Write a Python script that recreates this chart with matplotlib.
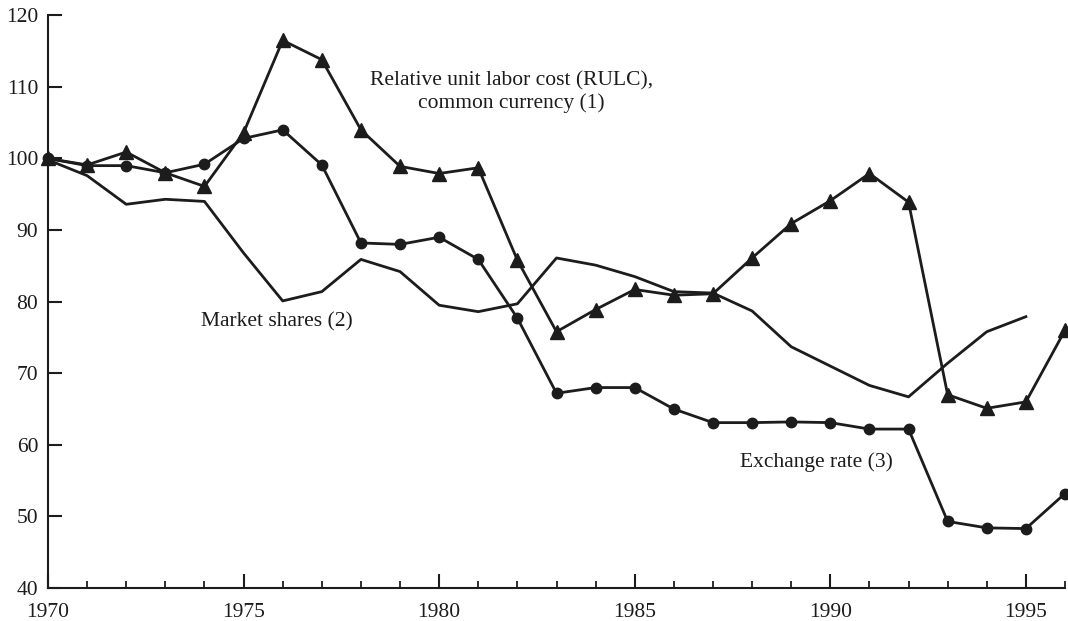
import numpy as np
import matplotlib
matplotlib.use("Agg")
from matplotlib import pyplot as plt

years = list(range(1970, 1997))

# Relative unit labor cost (RULC), common currency (1)
rulc = [100.0, 99.1, 100.9, 98.0, 96.1, 103.6, 116.5, 113.8, 104.0, 98.9,
        97.9, 98.7, 85.8, 75.8, 78.9, 81.7, 80.9, 81.1, 86.1, 90.9,
        94.1, 97.9, 93.9, 67.0, 65.1, 66.0, 76.0]

# Exchange rate (3)
exch_rate = [100.0, 99.0, 99.0, 98.0, 99.2, 102.8, 104.0, 99.1, 88.2, 88.0,
             89.0, 85.9, 77.7, 67.2, 68.0, 68.0, 65.0, 63.1, 63.1, 63.2,
             63.1, 62.2, 62.2, 49.3, 48.4, 48.3, 53.2]

# Market shares (2), ends in 1995
share_years = list(range(1970, 1996))
market_shares = [99.8, 97.6, 93.6, 94.3, 94.0, 86.8, 80.1, 81.4, 85.9, 84.2,
                 79.5, 78.6, 79.7, 86.1, 85.1, 83.5, 81.4, 81.2, 78.7, 73.7,
                 71.0, 68.3, 66.7, 71.4, 75.8, 77.9]

y_ticks = [40, 50, 60, 70, 80, 90, 100, 110, 120]
x_major = [1970, 1975, 1980, 1985, 1990, 1995]

plt.rcParams['font.family'] = ['Liberation Serif', 'DejaVu Serif']
ink = '#1c1c1c'

fig = plt.figure(figsize=(10.68, 6.21), dpi=100)
ax = fig.add_axes([48 / 1068, 33 / 621, (1065 - 48) / 1068, (588 - 15.3) / 621])

ax.plot(years, rulc, color=ink, lw=2.0, marker='^', ms=10, clip_on=False, zorder=3)
ax.plot(years, exch_rate, color=ink, lw=2.0, marker='o', ms=7.5, clip_on=False, zorder=3)
ax.plot(share_years, market_shares, color=ink, lw=2.0, clip_on=False, zorder=2)

ax.text(1981.84, 109.3, "Relative unit labor cost (RULC),\ncommon currency (1)",
        ha='center', va='center', fontsize=15.5, color=ink, linespacing=1.2)
ax.text(1975.85, 77.2, "Market shares (2)", ha='center', va='center', fontsize=15.5, color=ink)
ax.text(1989.64, 57.6, "Exchange rate (3)", ha='center', va='center', fontsize=15.5, color=ink)

ax.set_xlim(1970, 1996)
ax.set_ylim(40, 120)
ax.set_yticks(y_ticks)
ax.set_xticks(x_major)
ax.set_xticks(years, minor=True)

for side in ['top', 'right']:
    ax.spines[side].set_visible(False)
for side in ['left', 'bottom']:
    ax.spines[side].set_linewidth(1.5)
    ax.spines[side].set_color(ink)

ax.tick_params(axis='both', which='major', direction='in', length=10, width=1.5,
               color=ink, labelsize=15.5, labelcolor=ink)
ax.tick_params(axis='x', which='major', pad=11)
ax.tick_params(axis='y', which='major', pad=7)
ax.tick_params(axis='x', which='minor', direction='in', length=5, width=1.3, color=ink)

fig.savefig("out.png", dpi=100)
